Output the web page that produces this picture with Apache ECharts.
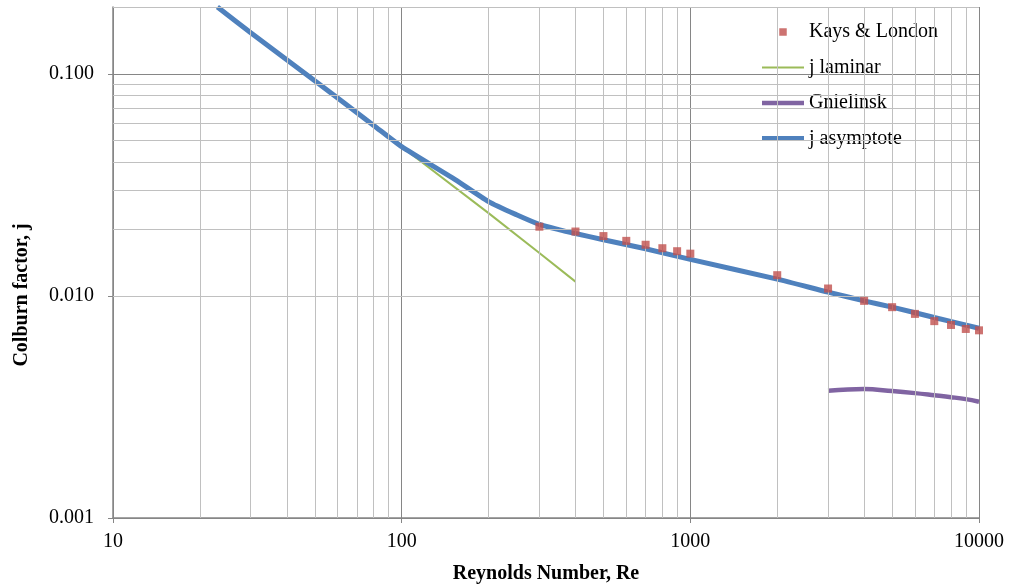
<!DOCTYPE html>
<html>
<head>
<meta charset="utf-8">
<script src="https://cdn.jsdelivr.net/npm/echarts@6/dist/echarts.min.js"></script>
<style>
html,body{margin:0;padding:0;background:#fff;}
#chart{width:1011px;height:586px;}
</style>
</head>
<body>
<div id="chart"></div>
<script>
// ---- data ----
const kaysRe = [300, 400, 500, 600, 700, 800, 900, 1000, 2000, 3000, 4000, 5000, 6000, 7000, 8000, 9000, 10000];
const kaysJ  = [0.0205, 0.0195, 0.0186, 0.0177, 0.0170, 0.0164, 0.0159, 0.0155, 0.0124, 0.0108, 0.0095, 0.0089, 0.0083, 0.0077, 0.0074, 0.0071, 0.0070];

const lamRe = [100, 200, 300, 400];
const lamJ  = [0.047, 0.0236, 0.0156, 0.0116];

const gnRe = [3000, 4000, 5000, 6000, 7000, 8000, 9000, 10000];
const gnJ  = [0.00374, 0.00381, 0.00373, 0.00365, 0.00357, 0.00350, 0.00343, 0.00334];

const asyRe = [23, 30, 50, 80, 100, 150, 200, 250, 300, 350, 400, 500, 700, 1000, 2000, 3000, 4000, 5000, 7000, 10000];
const asyJ  = [0.200, 0.153, 0.093, 0.0586, 0.047, 0.0340, 0.0266, 0.0232, 0.0210, 0.0199, 0.0191, 0.0179, 0.0163, 0.0146, 0.0119, 0.0104, 0.0095, 0.0089, 0.0080, 0.00715];

const seriesNames = ['Kays & London', 'j laminar', 'Gnielinsk', 'j asymptote'];
const xMinorTicks = [20, 30, 40, 50, 60, 70, 80, 90, 200, 300, 400, 500, 600, 700, 800, 900, 2000, 3000, 4000, 5000, 6000, 7000, 8000, 9000];
const yMinorTicks = [0.002, 0.003, 0.004, 0.005, 0.006, 0.007, 0.008, 0.009, 0.02, 0.03, 0.04, 0.05, 0.06, 0.07, 0.08, 0.09, 0.2];
const xTitle = 'Reynolds Number, Re';
const yTitle = 'Colburn factor, j';

const pairs = (xs, ys) => xs.map((x, i) => [x, ys[i]]);
const FONT = 'Liberation Serif';
const AXIS = '#868686';
const MINOR = '#c0c0c0';
const C_KL = '#c0504d', C_LAM = '#9bbb59', C_GN = '#8064a2', C_ASY = '#4f81bd';

const chart = echarts.init(document.getElementById('chart'), null, {renderer: 'canvas'});
chart.setOption({
  animation: false,
  backgroundColor: '#fff',
  grid: {left: 113, right: 32, top: 7, bottom: 68, containLabel: false, outerBoundsMode: 'none'},
  legend: {
    data: [
      {name: seriesNames[0], icon: 'path://M0,0h10v10h-10z', itemStyle: {color: C_KL}},
      {name: seriesNames[1], icon: 'path://M0,0h42v2h-42z', itemStyle: {color: C_LAM}},
      {name: seriesNames[2], icon: 'path://M0,0h42v4.5h-42z', itemStyle: {color: C_GN}},
      {name: seriesNames[3], icon: 'path://M0,0h42v5h-42z', itemStyle: {color: C_ASY}}
    ],
    symbolKeepAspect: true,
    orient: 'vertical',
    left: 757,
    top: 17,
    itemWidth: 42,
    itemHeight: 7.5,
    itemGap: 15.5,
    textStyle: {fontFamily: FONT, fontSize: 20, color: '#000', textBorderWidth: 0, textShadowBlur: 0}
  },
  xAxis: {
    type: 'log', logBase: 10, min: 10, max: 10000,
    axisLine: {show: true, lineStyle: {color: AXIS, width: 1.5}},
    axisTick: {show: true, inside: false, length: 5, lineStyle: {color: AXIS}},
    axisLabel: {fontFamily: FONT, fontSize: 20, color: '#000', margin: 14,
      formatter: v => String(Math.round(v))},
    splitLine: {show: true, lineStyle: {color: AXIS, width: 1}},
    name: xTitle, nameLocation: 'middle', nameGap: 46,
    nameTextStyle: {fontFamily: FONT, fontSize: 20, fontWeight: 'bold', color: '#000'}
  },
  yAxis: {
    type: 'log', logBase: 10, min: 0.001, max: 0.2,
    axisLine: {show: true, lineStyle: {color: AXIS, width: 1.5}},
    axisTick: {show: true, inside: false, length: 5, lineStyle: {color: AXIS}},
    axisLabel: {fontFamily: FONT, fontSize: 20, color: '#000', margin: 19,
      showMaxLabel: false,
      formatter: v => Number(v).toFixed(3)},
    splitLine: {show: true, showMaxLine: false, lineStyle: {color: AXIS, width: 1}}
  },
  graphic: [{
    type: 'text', x: 22, y: 295, rotation: Math.PI / 2,
    style: {text: yTitle, font: 'bold 20px "Liberation Serif"', fill: '#000',
      textAlign: 'center', textVerticalAlign: 'middle'}
  }],
  series: [
    {
      name: 'minor grid', type: 'line', data: [], z: 1, silent: true,
      markLine: {
        silent: true, symbol: ['none', 'none'], label: {show: false},
        lineStyle: {color: MINOR, type: 'solid', width: 1},
        emphasis: {disabled: true},
        data: xMinorTicks.map(v => ({xAxis: v})).concat(yMinorTicks.map(v => ({yAxis: v})))
      }
    },
    {
      name: seriesNames[0], type: 'scatter', symbol: 'rect', symbolSize: 8, z: 5,
      itemStyle: {color: C_KL},
      data: pairs(kaysRe, kaysJ)
    },
    {
      name: seriesNames[1], type: 'line', showSymbol: false, symbol: 'none', z: 3,
      lineStyle: {color: C_LAM, width: 2}, itemStyle: {color: C_LAM},
      data: pairs(lamRe, lamJ)
    },
    {
      name: seriesNames[2], type: 'line', showSymbol: false, symbol: 'none', smooth: 0.4, z: 4,
      lineStyle: {color: C_GN, width: 4.5}, itemStyle: {color: C_GN},
      data: pairs(gnRe, gnJ)
    },
    {
      name: seriesNames[3], type: 'line', showSymbol: false, symbol: 'none', smooth: 0.2, z: 4,
      lineStyle: {color: C_ASY, width: 5}, itemStyle: {color: C_ASY},
      data: pairs(asyRe, asyJ)
    }
  ]
});
</script>
</body>
</html>
